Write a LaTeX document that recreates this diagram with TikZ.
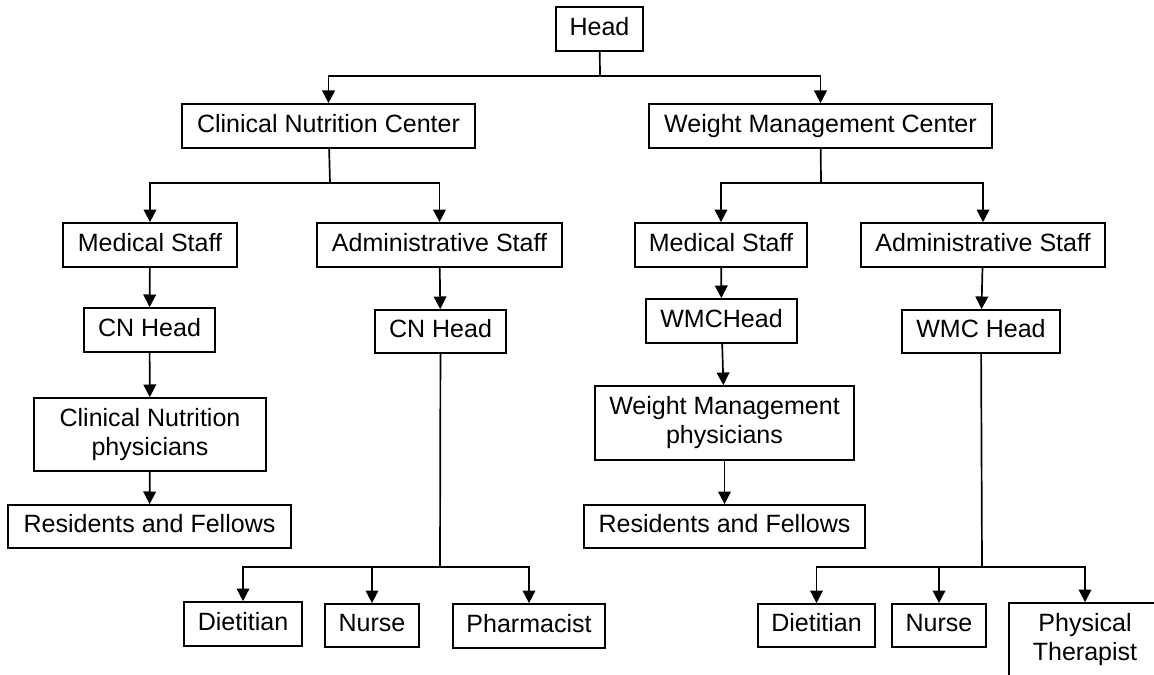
\documentclass[tikz,border=0pt]{standalone}
\usepackage{fontspec}
\setmainfont{Liberation Sans}
\usetikzlibrary{arrows.meta}

\newdimen\px \px=0.025cm
\tikzset{
  box/.style={draw,inner sep=0pt,minimum height=44\px,align=center,
    execute at begin node={\vphantom{Hy}},
    font=\fontsize{17.8}{20.6}\selectfont},
  elbow/.style={to path={-| (\tikztotarget)}}
}

\begin{document}
\begin{tikzpicture}[->,>={Triangle[width=9pt,length=9pt]},x=0.025cm,y=-0.025cm,line width=1.2pt]

\useasboundingbox(0,0)rectangle(1154,675);
\clip(0,0)rectangle(1154,675);

% top level
\node[box,minimum width=87\px](head)at(599.5,29){Head};
\node[box,minimum width=293\px](cnc)at(328.5,126){Clinical Nutrition Center};
\node[box,minimum width=343\px](wmc)at(820.5,126){Weight Management Center};

% clinical nutrition side
\node[box,minimum width=174\px](ms1)at(150,245){Medical Staff};
\node[box,minimum width=245\px](as1)at(439.5,245){Administrative Staff};
\node[box,minimum width=131\px](cnh1)at(149.5,330){CN Head};
\node[box,minimum width=131\px,minimum height=43\px](cnh2)at(440.5,331.5){CN Head};
\node[box,minimum width=232\px,minimum height=73\px](cnp)at(150,434.5){Clinical Nutrition\\physicians};
\node[box,minimum width=283\px,minimum height=43\px](rf1)at(149.5,526.5){Residents and Fellows};
\node[box,minimum width=118\px](diet1)at(243,624){Dietitian};
\node[box,minimum width=94\px,minimum height=43\px](nurse1)at(372,625.5){Nurse};
\node[box,minimum width=152\px](pharm)at(529,626){Pharmacist};

% weight management side
\node[box,minimum width=172\px](ms2)at(721,245){Medical Staff};
\node[box,minimum width=244\px](as2)at(983,245){Administrative Staff};
\node[box,minimum width=151\px](wmch1)at(721.5,321){WMCHead};
\node[box,minimum width=158\px,minimum height=43\px](wmch2)at(981,331.5){WMC Head};
\node[box,minimum width=259\px,minimum height=74\px](wmp)at(724.5,423){Weight Management\\physicians};
\node[box,minimum width=281\px,minimum height=43\px](rf2)at(724.5,526.5){Residents and Fellows};
\node[box,minimum width=117\px,minimum height=43\px](diet2)at(816.5,625.5){Dietitian};
\node[box,minimum width=94\px,minimum height=43\px](nurse2)at(939,625.5){Nurse};
\node[box,minimum width=152\px,minimum height=74\px](pt)at(1085,640){Physical\\Therapist};

% branch points
\coordinate(jh)at(600,76);
\coordinate(jc)at(330,183);
\coordinate(jw)at(821,183);
\coordinate(jn)at(440,567);
\coordinate(jm)at(982,567);

\draw[-](head)--(jh);
\draw[-](cnc)--(jc);
\draw[-](wmc)--(jw);
\draw[-](cnh2)--(jn);
\draw[-](wmch2)--(jm);

\path(jh)edge[elbow](cnc)
     (jh)edge[elbow](wmc)
     (jc)edge[elbow](ms1)
     (jc)edge[elbow](as1)
     (jw)edge[elbow](ms2)
     (jw)edge[elbow](as2)
     (ms1)edge(cnh1)
     (cnh1)edge(cnp)
     (cnp)edge(rf1)
     (as1)edge(cnh2)
     (jn)edge[elbow](diet1)
     (jn)edge[elbow](nurse1)
     (jn)edge[elbow](pharm)
     (ms2)edge(wmch1)
     (wmch1)edge(wmp)
     (wmp)edge(rf2)
     (as2)edge(wmch2)
     (jm)edge[elbow](diet2)
     (jm)edge[elbow](nurse2)
     (jm)edge[elbow](pt)
     ;

\end{tikzpicture}
\end{document}
